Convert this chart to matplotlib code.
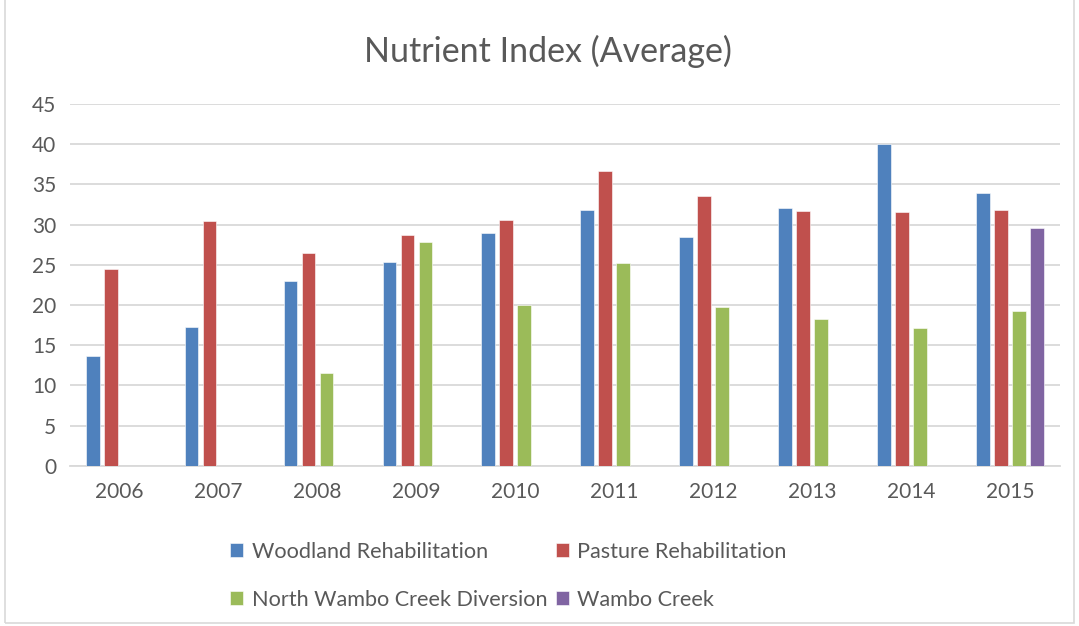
import numpy as np
import matplotlib.pyplot as plt
from matplotlib.patches import Rectangle

years = ["2006", "2007", "2008", "2009", "2010", "2011", "2012", "2013", "2014", "2015"]
woodland = [13.7, 17.3, 23.0, 25.3, 29.0, 31.8, 28.5, 32.1, 40.0, 33.9]
pasture = [24.5, 30.4, 26.4, 28.7, 30.6, 36.6, 33.6, 31.7, 31.5, 31.8]
north_wambo = [np.nan, np.nan, 11.5, 27.8, 20.0, 25.2, 19.7, 18.3, 17.1, 19.3]
wambo = [np.nan] * 9 + [29.6]

series = [
    ("Woodland Rehabilitation", woodland, "#4F81BD"),
    ("Pasture Rehabilitation", pasture, "#C0504D"),
    ("North Wambo Creek Diversion", north_wambo, "#9BBB59"),
    ("Wambo Creek", wambo, "#8064A2"),
]

plt.rcParams['font.family'] = ['Lato', 'DejaVu Sans']
text_col = "#595959"
grid_col = "#D9D9D9"

fig = plt.figure(figsize=(10.79, 6.26), dpi=100)
ax = fig.add_axes([0.065, 0.256, 0.917, 0.578])

x = np.arange(len(years))
width = 0.14
pitch = 0.182
bars = []
for i, (name, vals, col) in enumerate(series):
    b = ax.bar(x + (i - 1.5) * pitch, vals, width, color=col, label=name,
               edgecolor="white", linewidth=0.4, zorder=3)
    bars.append(b)

ax.set_xlim(-0.5, len(years) - 0.5)
ax.set_ylim(0, 45)
ax.set_yticks(range(0, 46, 5))
ax.set_xticks(x)
ax.set_xticklabels(years)
ax.yaxis.grid(True, color=grid_col, linewidth=1.3, zorder=0)
ax.tick_params(length=0, labelsize=15, colors=text_col)
ax.tick_params(axis="x", pad=12)
ax.tick_params(axis="y", pad=10)
for s in ["top", "right", "left"]:
    ax.spines[s].set_visible(False)
ax.spines["bottom"].set_color(grid_col)
ax.spines["bottom"].set_linewidth(1.3)

fig.text(0.508, 0.918, "Nutrient Index (Average)", ha="center", va="center",
         fontsize=24.5, color=text_col)

# row-wise legend order (matplotlib fills columns first)
order = [0, 2, 1, 3]
fig.legend([bars[i] for i in order], [series[i][0] for i in order],
           loc="upper left", bbox_to_anchor=(0.195, 0.166), ncol=2, frameon=False,
           fontsize=15.6, labelcolor=text_col, handlelength=0.6, handleheight=0.6,
           handletextpad=0.4, columnspacing=0.4, labelspacing=1.3)

fig.patches.append(Rectangle((0.005, 0.005), 0.99, 1.2, transform=fig.transFigure,
                             fill=False, edgecolor=grid_col, linewidth=1.2))

fig.savefig("out.png", dpi=100)
